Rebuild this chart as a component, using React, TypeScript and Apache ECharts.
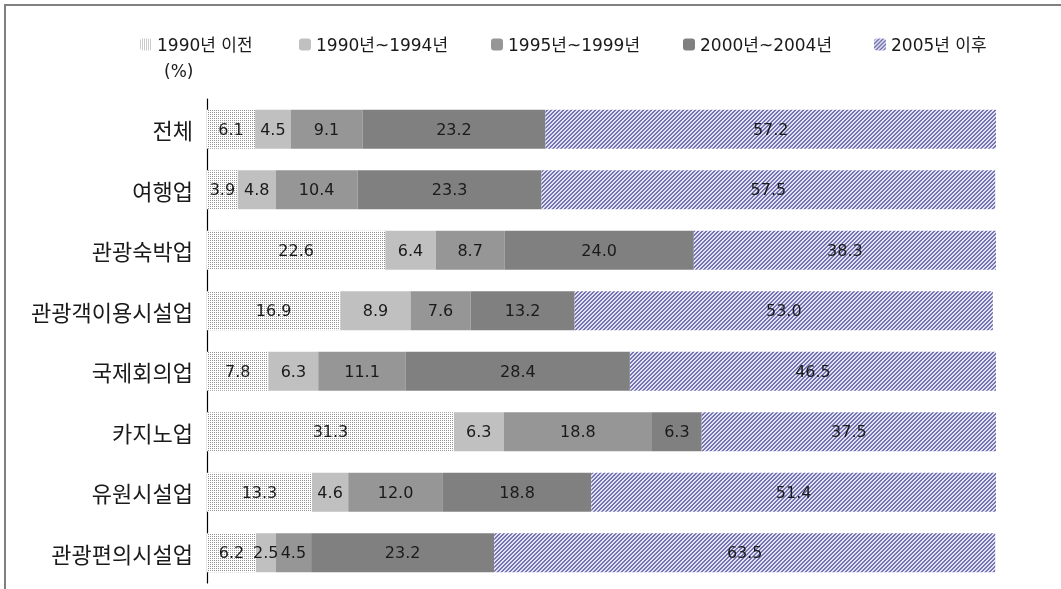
import React, { useEffect, useRef } from "react";
import * as echarts from "echarts";

const categories = ["전체", "여행업", "관광숙박업", "관광객이용시설업", "국제회의업", "카지노업", "유원시설업", "관광편의시설업"];
const seriesNames = ["1990년 이전", "1990년~1994년", "1995년~1999년", "2000년~2004년", "2005년 이후"];
const before1990 = [6.1, 3.9, 22.6, 16.9, 7.8, 31.3, 13.3, 6.2];
const y1990_1994 = [4.5, 4.8, 6.4, 8.9, 6.3, 6.3, 4.6, 2.5];
const y1995_1999 = [9.1, 10.4, 8.7, 7.6, 11.1, 18.8, 12.0, 4.5];
const y2000_2004 = [23.2, 23.3, 24.0, 13.2, 28.4, 6.3, 18.8, 23.2];
const after2005 = [57.2, 57.5, 38.3, 53.0, 46.5, 37.5, 51.4, 63.5];
const legendLefts = [140, 299, 491, 683, 874];

const FONT = '"DejaVu Sans", "Noto Sans CJK KR", sans-serif';
const KFONT = '"Noto Sans CJK KR", sans-serif';

function makePattern(draw: (ctx: CanvasRenderingContext2D) => void, size: number) {
  const c = document.createElement("canvas");
  c.width = size;
  c.height = size;
  const ctx = c.getContext("2d")!;
  draw(ctx);
  return { image: c, repeat: "repeat", imageWidth: size, imageHeight: size } as any;
}

export default function App() {
  const ref = useRef<HTMLDivElement>(null);
  useEffect(() => {
    document.body.style.margin = "0";
    const chart = echarts.init(ref.current!, null, { renderer: "svg" });

    const dotPattern = makePattern((ctx) => {
      ctx.fillStyle = "#ffffff";
      ctx.fillRect(0, 0, 2, 2);
      ctx.fillStyle = "#959595";
      ctx.fillRect(0, 0, 1, 1);
    }, 2);

    const bluePattern = makePattern((ctx) => {
      ctx.fillStyle = "#e2e2f0";
      ctx.fillRect(0, 0, 4, 4);
      ctx.fillStyle = "#7474b4";
      for (let y = 0; y < 4; y++) {
        for (let x = 0; x < 4; x++) {
          if ((x + y) % 4 < 2) ctx.fillRect(x, y, 1, 1);
        }
      }
    }, 4);

    const colors = [dotPattern, "#c0c0c0", "#969696", "#808080", bluePattern];
    const dataSets = [before1990, y1990_1994, y1995_1999, y2000_2004, after2005];

    const series = seriesNames.map((name, i) => ({
      name,
      type: "bar",
      stack: "total",
      barWidth: 39,
      data: dataSets[i],
      itemStyle: { color: colors[i] },
      label: {
        show: true,
        position: "inside",
        formatter: (p: any) => Number(p.value).toFixed(1),
        color: "#1a1a1a",
        fontSize: 16,
        fontFamily: FONT,
      },
      emphasis: { disabled: true },
    }));

    const legends = seriesNames.map((name, i) => ({
      show: true,
      left: legendLefts[i],
      top: 36,
      data: [name],
      itemWidth: 12,
      itemHeight: 12,
      padding: 0,
      textStyle: { fontSize: 17, fontFamily: FONT, color: "#1a1a1a" },
      selectedMode: false,
    }));

    chart.setOption({
      animation: false,
      textStyle: { fontFamily: FONT },
      legend: legends,
      grid: { left: 207, right: 65, top: 99, bottom: 6, containLabel: false },
      xAxis: {
        type: "value",
        min: 0,
        max: 100,
        show: false,
      },
      yAxis: {
        type: "category",
        data: categories,
        inverse: true,
        axisTick: { show: false },
        axisLine: { show: true, lineStyle: { color: "#000", width: 1.2 } },
        axisLabel: { fontSize: 22, color: "#1a1a1a", margin: 14, fontFamily: KFONT },
      },
      graphic: [
        {
          type: "rect",
          shape: { x: 5, y: 5, width: 1300, height: 900 },
          style: { fill: "none", stroke: "#808080", lineWidth: 2 },
          silent: true,
        },
        {
          type: "text",
          left: 164,
          top: 62,
          style: { text: "(%)", fontSize: 17, fontFamily: FONT, fill: "#1a1a1a" },
        },
      ],
      series,
    });
    return () => chart.dispose();
  }, []);
  return <div ref={ref} style={{ position: "fixed", left: 0, top: 0, width: 1061, height: 589 }} />;
}
